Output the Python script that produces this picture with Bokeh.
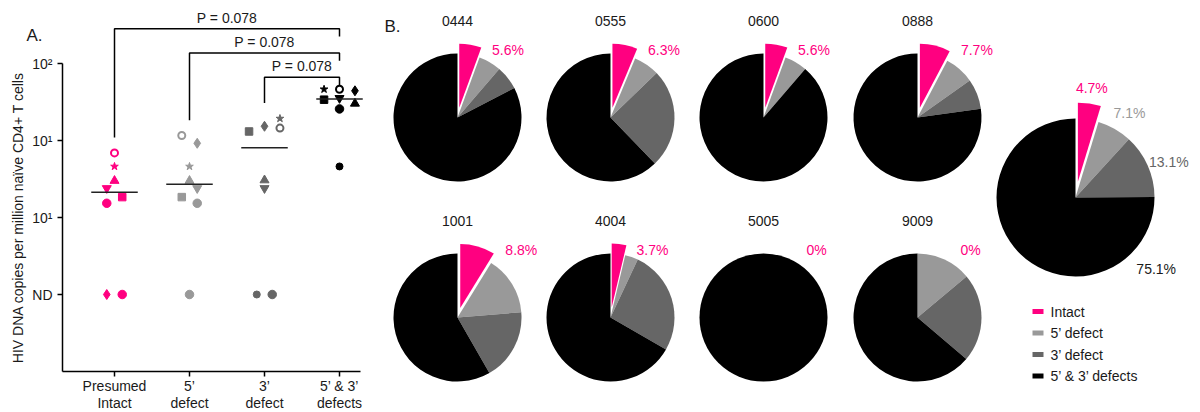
import math
from bokeh.plotting import figure
from bokeh.models import Range1d, FixedTicker, ColumnDataSource
from bokeh.layouts import row
from bokeh.embed import file_html
from bokeh.resources import INLINE
from bokeh.core.properties import value

FONT = "Liberation Sans"
PINK = "#ff0080"
LIGHT = "#999999"
DARK = "#666666"
BLACK = "#000000"
TXT = "#1a1a1a"

# ---------------- Panel A data ----------------
group_labels = ["Presumed\nIntact", "5’\ndefect", "3’\ndefect", "5’ & 3’\ndefects"]
group_colors = [PINK, LIGHT, DARK, BLACK]
# HIV DNA copies per million naive CD4+ T cells (None = not detected)
intact_values = [6.9, 4.6, 3.0, 2.4, 1.84, 1.53, None, None]
intact_markers = ["open", "star", "triangle", "inverted_triangle", "square", "circle", "diamond", "circle"]
def5_values = [11.6, 9.2, 4.6, 3.0, 2.4, 1.84, 1.53, None]
def5_markers = ["open", "diamond", "star", "triangle", "inverted_triangle", "square", "circle", "circle"]
def3_values = [13.1, 15.3, 19.3, 14.5, 3.05, 2.4, None, None]
def3_markers = ["square", "diamond", "star", "open", "triangle", "inverted_triangle", "small", "circle"]
def53_values = [46.3, 46.3, 44.2, 33.9, 35.5, 30.2, 25.7, 4.6]
def53_markers = ["star", "open", "diamond", "square", "inverted_triangle", "triangle", "circle", "small"]
comparisons = [(0, 3, "P = 0.078"), (1, 3, "P = 0.078"), (2, 3, "P = 0.078")]
y_tick_labels = {2: "10²", 1: "10¹", 0: "10¹", -1: "ND"}
y_axis_title = "HIV DNA copies per million naïve CD4+ T cells"

# ---------------- Panel B data ----------------
subjects = ["0444", "0555", "0600", "0888", "1001", "4004", "5005", "9009"]
intact_pct = [5.6, 6.3, 5.6, 7.7, 8.8, 3.7, 0.0, 0.0]
def5_pct = [5.7, 6.5, 5.7, 7.5, 14.9, 3.3, 0.0, 13.9]
def3_pct = [6.1, 25.0, 0.0, 7.6, 18.0, 26.3, 0.0, 22.3]
overall_pct = [4.7, 7.1, 13.1, 75.1]
legend_labels = ["Intact", "5’ defect", "3’ defect", "5’ & 3’ defects"]

# ---------------- layout (not data) ----------------
group_values = [intact_values, def5_values, def3_values, def53_values]
group_markers = [intact_markers, def5_markers, def3_markers, def53_markers]
jitter = [[0, 0, 0, -1, 1, -1, -1, 1],
          [-1, 1, 0, 0, 1, -1, 1, 0],
          [-2, 0, 2, 2, 0, 0, -1, 1],
          [-2, 0, 2, -2, 0, 2, 0, 0]]
JIT = 0.103
ND_POS = -1
marker_style = {
    "circle": ("circle", 8.5, None, 1),
    "small": ("circle", 7, None, 1),
    "open": ("circle", 7, "white", 2),
    "star": ("star", 8, None, 1),
    "triangle": ("triangle", 9, None, 1),
    "inverted_triangle": ("inverted_triangle", 9, None, 1),
    "square": ("square", 7.5, None, 1),
    "diamond": ("diamond", 10, None, 1),
}


def ylog(v):
    return math.log10(v) if v else ND_POS


# pixel geometry of panel A: 75 px per category, 77 px per decade
PX_X, PX_Y = 75.0, 77.0
X0 = 1 - 114 / PX_X            # data x at pixel 0
Y_TOP = 2 + 63 / PX_Y          # data y at pixel 0
AX_LEFT = 1 - (114 - 62) / PX_X
AX_RIGHT = 1 + (360 - 114) / PX_X

pa = figure(width=380, height=412,
            x_range=Range1d(X0, X0 + 380 / PX_X), y_range=Range1d(Y_TOP - 412 / PX_Y, Y_TOP),
            output_backend="svg", toolbar_location=None, min_border=0)
pa.outline_line_color = None
pa.grid.visible = False

xs, ys, mk, sz, fc, lc, lw = [], [], [], [], [], [], []
for gi, (vals, mks) in enumerate(zip(group_values, group_markers)):
    for j, (v, m) in enumerate(zip(vals, mks)):
        name, size, fill, lwid = marker_style[m]
        xs.append(gi + 1 + jitter[gi][j] * JIT)
        ys.append(ylog(v))
        mk.append(name)
        sz.append(size)
        fc.append(fill if fill else group_colors[gi])
        lc.append(group_colors[gi])
        lw.append(lwid)
src = ColumnDataSource(dict(x=xs, y=ys, marker=mk, size=sz, fill=fc, line=lc, lw=lw))
pa.scatter(x="x", y="y", marker="marker", size="size", fill_color="fill",
           line_color="line", line_width="lw", source=src)

# medians (ND counted as lowest)
for gi, vals in enumerate(group_values):
    s = sorted([v if v else 0 for v in vals])
    n = len(s)
    med = (s[n // 2 - 1] + s[n // 2]) / 2 if n % 2 == 0 else s[n // 2]
    pa.line(x=[gi + 1 - 0.31, gi + 1 + 0.31], y=[ylog(med)] * 2, line_color="#222222", line_width=1.5)

# significance brackets
for level in range(len(comparisons)):
    a, b, lab = comparisons[len(comparisons) - 1 - level]
    h = 1.82 + 0.315 * level
    left_top = max(ylog(v) for v in group_values[a]) + 0.2
    right_top = h - 0.1
    pa.line(x=[a + 1, a + 1, b + 1, b + 1], y=[left_top, h, h, right_top],
            line_color="black", line_width=1.5)
    pa.text(x=[(a + b + 2) / 2], y=[h], text=[lab], text_font=value(FONT), text_font_size="14px",
            text_align="center", text_baseline="bottom", text_color=TXT, y_offset=-3)

pa.yaxis.fixed_location = AX_LEFT
pa.yaxis.ticker = FixedTicker(ticks=sorted(y_tick_labels))
pa.yaxis.major_label_overrides = {k: v for k, v in y_tick_labels.items()}
pa.yaxis.bounds = (-2, 2)
pa.yaxis.axis_label = y_axis_title
pa.yaxis.axis_label_text_font = FONT
pa.yaxis.axis_label_text_font_size = "14px"
pa.yaxis.axis_label_text_font_style = "normal"
pa.yaxis.axis_label_text_color = TXT
pa.yaxis.axis_label_standoff = 3

pa.xaxis.fixed_location = -2
pa.xaxis.bounds = (AX_LEFT, AX_RIGHT)
pa.xaxis.ticker = FixedTicker(ticks=[1, 2, 3, 4])
pa.xaxis.major_label_overrides = {i + 1: g for i, g in enumerate(group_labels)}
pa.xaxis.major_label_standoff = 1
pa.xaxis.major_label_text_line_height = 1.1
pa.yaxis.major_label_standoff = 5
for ax in (pa.xaxis, pa.yaxis):
    ax.minor_tick_line_color = None
    ax.major_tick_in = 0
    ax.major_tick_out = 5
    ax.axis_line_width = 1.5
    ax.axis_line_color = "black"
    ax.major_tick_line_width = 1.5
    ax.major_label_text_font = FONT
    ax.major_label_text_font_size = "14px"
    ax.major_label_text_color = TXT

pa.text(x=[X0 + 26 / PX_X], y=[Y_TOP - 35 / PX_Y], text=["A."], text_font=value(FONT),
        text_font_size="17px", text_align="left", text_baseline="middle", text_color=TXT)

# ---------------- Panel B ----------------
H = 412
pb = figure(width=820, height=412, x_range=Range1d(380, 1200), y_range=Range1d(0, H),
            x_axis_type=None, y_axis_type=None, output_backend="svg", toolbar_location=None,
            min_border=0)
pb.outline_line_color = None
pb.grid.visible = False

col_x = [457, 610, 763, 917]
row_y = [117, 317]
R = 64
EXPLODE = 10
cat_colors = [PINK, LIGHT, DARK, BLACK]


def draw_pie(cx, cy_pix, shares, radius, explode):
    cy = H - cy_pix
    a0 = 0.0
    segs = []
    for i, s in enumerate(shares):
        a1 = a0 + s / 100 * 360
        segs.append((a0, a1))
        if s > 0:
            ox = oy = 0.0
            if i == 0:
                mid = math.radians((a0 + a1) / 2)
                ox, oy = explode * math.sin(mid), explode * math.cos(mid)
            if s >= 99.99:
                pb.circle(x=[cx], y=[cy], radius=radius, fill_color=cat_colors[i], line_color=None)
            else:
                pb.wedge(x=[cx + ox], y=[cy + oy], radius=radius,
                         start_angle=math.pi / 2 - math.radians(a0),
                         end_angle=math.pi / 2 - math.radians(a1), direction="clock",
                         fill_color=cat_colors[i], line_color=None)
        a0 = a1
    return segs


for k, subj in enumerate(subjects):
    cx = col_x[k % 4]
    cyp = row_y[k // 4]
    black = 100 - intact_pct[k] - def5_pct[k] - def3_pct[k]
    segs = draw_pie(cx, cyp, [intact_pct[k], def5_pct[k], def3_pct[k], black], R, EXPLODE)
    pb.text(x=[cx], y=[H - (cyp - 97)], text=[subj], text_font=value(FONT), text_font_size="14px",
            text_align="center", text_baseline="middle", text_color=TXT)
    if intact_pct[k] > 0:
        lx = cx + (R + EXPLODE) * math.sin(math.radians(segs[0][1])) + 9
    else:
        lx = cx + 43
    lab = f"{intact_pct[k]:g}%"
    pb.text(x=[lx], y=[H - (cyp - 68)], text=[lab], text_font=value(FONT), text_font_size="14px",
            text_align="left", text_baseline="middle", text_color=PINK)

# overall pie
BCX, BCY, BR, BEXP = 1075, 197, 79, 16
segs = draw_pie(BCX, BCY, overall_pct, BR, BEXP)
label_colors = [PINK, LIGHT, DARK, TXT]
for i, (s, (a0, a1)) in enumerate(zip(overall_pct, segs)):
    if i == 0:
        ang = (a0 + a1) / 2
        dist = BR + 16 + BEXP
    elif s < 50:
        ang = (a0 + a1) / 2 + 3
        dist = BR + 21
    else:
        ang = a0 + 42
        dist = BR + 29
    lx = BCX + dist * math.sin(math.radians(ang))
    ly = H - BCY + dist * math.cos(math.radians(ang))
    pb.text(x=[lx], y=[ly], text=[f"{s:g}%"], text_font=value(FONT), text_font_size="14px",
            text_align="center", text_baseline="middle", text_color=label_colors[i])

# legend
leg_y = [311, 332.5, 354, 375.5]
pb.rect(x=[1037.5] * 4, y=[H - y for y in leg_y], width=11, height=5,
        fill_color=cat_colors, line_color=None)
pb.text(x=[1050] * 4, y=[H - y for y in leg_y], text=legend_labels, text_font=value(FONT),
        text_font_size="14px", text_align="left", text_baseline="middle", text_color=TXT)

pb.text(x=[384], y=[H - 26], text=["B."], text_font=value(FONT), text_font_size="17px",
        text_align="left", text_baseline="middle", text_color=TXT)

layout = row(pa, pb)
open("out.html", "w").write(file_html(layout, INLINE))
